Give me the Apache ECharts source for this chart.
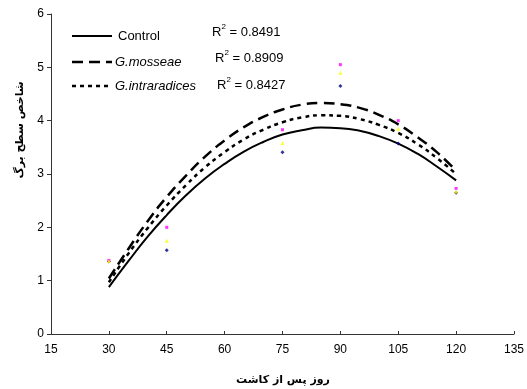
<!DOCTYPE html>
<html><head><meta charset="utf-8">
<script src="https://cdn.jsdelivr.net/npm/echarts@6/dist/echarts.min.js"></script>
<style>html,body{margin:0;padding:0;background:#fff}#c{width:527px;height:389px}</style>
</head><body><div id="c"></div>
<script>
// Observed days and measurements
const days = [30, 45, 75, 90, 105, 120];
const controlObs = [1.36, 1.57, 3.41, 4.65, 3.57, 2.65];
const mosseaeObs = [1.38, 2.00, 3.83, 5.05, 4.00, 2.73];
const intraObs   = [1.37, 1.75, 3.58, 4.90, 3.85, 2.67];
// Trendline values
const trendDays = [30,35,40,45,50,55,60,65,70,75,80,85,90,95,100,105,110,115,120];
const controlTrend = [0.88,1.36,1.82,2.23,2.60,2.92,3.19,3.42,3.60,3.74,3.82,3.87,3.86,3.81,3.71,3.57,3.38,3.14,2.88];
const mosseaeTrend = [1.04,1.59,2.11,2.57,2.97,3.33,3.63,3.88,4.07,4.21,4.30,4.33,4.31,4.24,4.11,3.93,3.69,3.41,3.06];
const intraTrend   = [0.97,1.50,1.98,2.41,2.79,3.13,3.41,3.65,3.83,3.97,4.06,4.10,4.09,4.03,3.92,3.77,3.56,3.30,3.00];
const seriesNames = ['Control', 'G.mosseae', 'G.intraradices'];
const r2Labels = ['0.8491', '0.8909', '0.8427'];
const xTitle = 'روز پس از کاشت';
const yTitle = 'شاخص سطح برگ';

const zip = (a, b) => a.map((v, i) => [v, b[i]]);
const chart = echarts.init(document.getElementById('c'));
const font = 'Liberation Sans, Arial, sans-serif';
const lineStyles = [
  {color:'#000', width:2, type:'solid'},
  {color:'#000', width:2.5, type:[11,6]},
  {color:'#000', width:2.5, type:[4,4]}
];
const legendY = [36, 62, 86];
const r2Pos = [[212,31],[215,57],[217,84]];
const graphics = [];
seriesNames.forEach((n, i) => {
  graphics.push({type:'line', shape:{x1:72, y1:legendY[i], x2:112, y2:legendY[i]}, style:{stroke:'#000', lineWidth:lineStyles[i].width, lineDash: i===0?null:lineStyles[i].type}});
  graphics.push({type:'text', x: i===0?118:115, y: legendY[i], style:{text:n, font:(i===0?'':'italic ')+'13px '+font, fill:'#000', verticalAlign:'middle'}});
  graphics.push({type:'text', x: r2Pos[i][0], y: r2Pos[i][1], style:{
    text:'{a|R}{s|2}{a| = '+r2Labels[i]+'}', verticalAlign:'middle',
    rich:{a:{fontSize:13, fontFamily:font, color:'#000', verticalAlign:'bottom'}, s:{fontSize:8, fontFamily:font, color:'#000', verticalAlign:'top', padding:[0,0,8,0]}}
  }});
});
graphics.push({type:'text', x:283, y:380, style:{text:xTitle, font:'bold 11px DejaVu Sans, sans-serif', fill:'#000', align:'center', verticalAlign:'middle'}});
graphics.push({type:'text', x:20, y:130, rotation:Math.PI/2, style:{text:yTitle, font:'bold 11px DejaVu Sans, sans-serif', fill:'#000', align:'center', verticalAlign:'middle'}});

const symbols = ['diamond', 'rect', 'triangle'];
const colors = ['#000080', '#FF00FF', '#FFFF00'];
const obs = [controlObs, mosseaeObs, intraObs];
const trends = [controlTrend, mosseaeTrend, intraTrend];
const series = [];
seriesNames.forEach((n, i) => {
  series.push({type:'line', name:n, data: zip(trendDays, trends[i]), smooth:true, showSymbol:false, lineStyle:lineStyles[i], z:3, silent:true});
});
seriesNames.forEach((n, i) => {
  series.push({type:'scatter', name:n+' obs', data: zip(days, obs[i]), symbol:symbols[i], symbolSize: i===1?3:4, itemStyle:{color:colors[i]}, z:4});
});

chart.setOption({
  animation:false,
  grid:{left:51, right:9, top:14, bottom:55},
  xAxis:{type:'value', min:15, max:135, interval:15,
    axisLine:{lineStyle:{color:'#333', width:1}}, splitLine:{show:false},
    axisTick:{show:true, inside:true, length:3, lineStyle:{color:'#333'}},
    axisLabel:{fontFamily:font, fontSize:12, color:'#000', margin:10, showMaxLabel:true, showMinLabel:true}},
  yAxis:{type:'value', min:0, max:6, interval:1,
    axisLine:{show:true, lineStyle:{color:'#333', width:1}}, splitLine:{show:false},
    axisTick:{show:true, length:4, lineStyle:{color:'#333'}},
    axisLabel:{fontFamily:font, fontSize:12, color:'#000', margin:7}},
  graphic: graphics,
  series: series
});
</script></body></html>
